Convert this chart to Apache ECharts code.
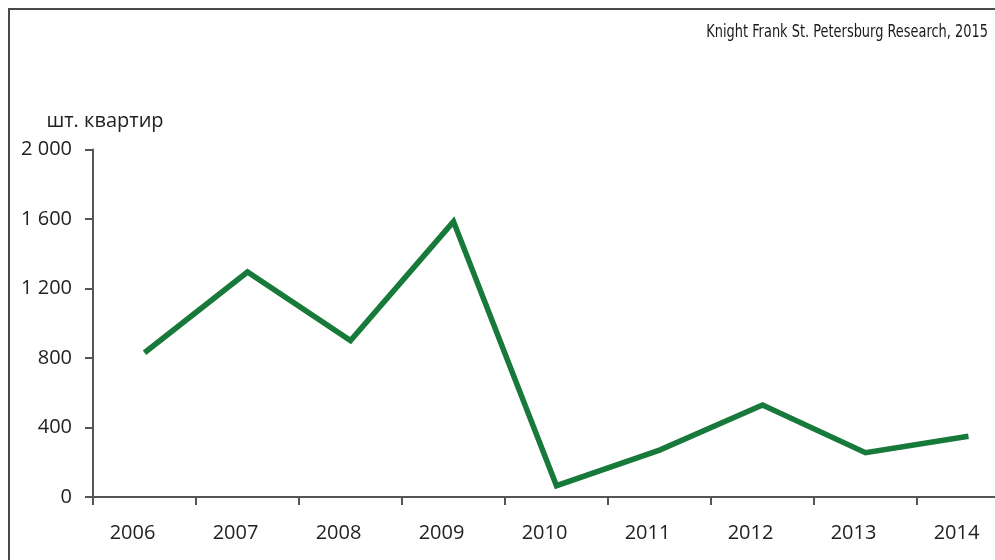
<!DOCTYPE html>
<html>
<head>
<meta charset="utf-8">
<script src="https://cdn.jsdelivr.net/npm/echarts@6/dist/echarts.min.js"></script>
<style>
  html, body { margin: 0; padding: 0; background: #fff; }
  #chart { width: 995px; height: 560px; }
</style>
</head>
<body>
<div id="chart"></div>
<script>
var categories = ['2006', '2007', '2008', '2009', '2010', '2011', '2012', '2013', '2014'];
var values = [830, 1295, 900, 1585, 65, 270, 530, 255, 350];
var yTicks = { min: 0, max: 2000, interval: 400 };
var sourceText = 'Knight Frank St. Petersburg Research, 2015';
var unitText = 'шт. квартир';

var chart = echarts.init(document.getElementById('chart'), null, { renderer: 'canvas' });
var mainFont = '"Open Sans", "Noto Sans", sans-serif';

chart.setOption({
  animation: false,
  backgroundColor: '#ffffff',
  graphic: [{
    type: 'polyline',
    shape: { points: [[9, 560], [9, 9], [995, 9]] },
    style: { stroke: '#4a4a4a', lineWidth: 2, fill: null },
    silent: true
  }, {
    type: 'text',
    x: 988,
    y: 32.5,
    originX: 0,
    originY: 0,
    scaleX: 0.8,
    silent: true,
    style: {
      text: sourceText,
      fontFamily: '"Liberation Sans Narrow", "DejaVu Sans Condensed", sans-serif',
      fontSize: 18,
      fill: '#1a1a1a',
      align: 'right',
      verticalAlign: 'middle'
    }
  }],
  grid: {
    left: 93,
    top: 149.5,
    bottom: 63,
    width: 927,
    outerBoundsMode: 'none',
    containLabel: false
  },
  xAxis: {
    type: 'category',
    data: categories,
    boundaryGap: true,
    axisLine: { lineStyle: { color: '#555', width: 2 } },
    axisTick: { show: true, length: 8, lineStyle: { color: '#555', width: 2 } },
    axisLabel: {
      fontFamily: mainFont,
      fontSize: 20,
      color: '#222',
      margin: 26,
      padding: [0, 24, 0, 0]
    },
    splitLine: { show: false }
  },
  yAxis: {
    type: 'value',
    min: yTicks.min,
    max: yTicks.max,
    interval: yTicks.interval,
    name: unitText,
    nameLocation: 'end',
    nameGap: 18,
    nameTextStyle: {
      fontFamily: mainFont,
      fontSize: 20,
      color: '#222',
      align: 'center',
      padding: [0, 0, 0, 24]
    },
    axisLine: { show: true, lineStyle: { color: '#555', width: 2 } },
    axisTick: { show: true, length: 8, lineStyle: { color: '#555', width: 2 } },
    axisLabel: {
      fontFamily: mainFont,
      fontSize: 20,
      color: '#222',
      margin: 21,
      formatter: function (v) {
        return String(v).replace(/\B(?=(\d{3})+(?!\d))/g, ' ');
      }
    },
    splitLine: { show: false }
  },
  series: [{
    type: 'line',
    data: values,
    symbol: 'none',
    lineStyle: { color: '#17793a', width: 5.5, join: 'miter' },
    itemStyle: { color: '#17793a' }
  }]
});
</script>
</body>
</html>
